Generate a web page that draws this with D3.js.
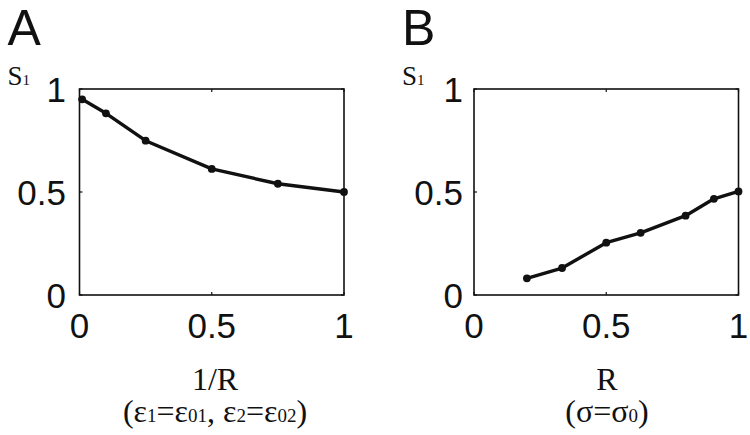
<!DOCTYPE html>
<html>
<head>
<meta charset="utf-8">
<script src="https://cdn.jsdelivr.net/npm/d3@7"></script>
<style>
  body { margin: 0; background: #fff; }
  svg { display: block; }
</style>
</head>
<body>
<div id="chart"></div>
<script>
// Panel A: S1 vs 1/R
const invR = [0.01, 0.10, 0.25, 0.50, 0.75, 1.00];
const s1A = [0.95, 0.882, 0.749, 0.612, 0.540, 0.500];
// Panel B: S1 vs R
const rVals = [0.20, 0.333, 0.50, 0.63, 0.80, 0.907, 1.00];
const s1B = [0.081, 0.131, 0.254, 0.302, 0.385, 0.467, 0.503];

const xTicks = [0, 0.5, 1];
const yTicks = [0, 0.5, 1];
const tickLabels = ['0', '0.5', '1'];

const W = 750, H = 435;
const svg = d3.select('#chart').append('svg').attr('width', W).attr('height', H);

const sans = 'Arial, "Liberation Sans", sans-serif';
const serif = '"Times New Roman", "Liberation Serif", serif';

const panels = [
  { letter: 'A', left: 79.5, right: 344, labelEnd: 66, xs: invR, ys: s1A },
  { letter: 'B', left: 474, right: 738.5, labelEnd: 463, xs: rVals, ys: s1B }
];
const plotTop = 89, plotBottom = 295;

panels.forEach(p => {
  const x = d3.scaleLinear().domain([0, 1]).range([p.left, p.right]);
  const y = d3.scaleLinear().domain([0, 1]).range([plotBottom, plotTop]);
  const g = svg.append('g');

  // box
  g.append('rect')
    .attr('x', x(0)).attr('y', y(1))
    .attr('width', x(1) - x(0)).attr('height', y(0) - y(1))
    .attr('fill', 'none').attr('stroke', '#111').attr('stroke-width', 1.6);

  // inward ticks
  xTicks.forEach(t => {
    g.append('line').attr('x1', x(t)).attr('x2', x(t)).attr('y1', y(0)).attr('y2', y(0) - 3)
      .attr('stroke', '#111').attr('stroke-width', 1.2);
    g.append('line').attr('x1', x(t)).attr('x2', x(t)).attr('y1', y(1)).attr('y2', y(1) + 3)
      .attr('stroke', '#111').attr('stroke-width', 1.2);
  });
  yTicks.forEach(t => {
    g.append('line').attr('x1', x(0)).attr('x2', x(0) + 3).attr('y1', y(t)).attr('y2', y(t))
      .attr('stroke', '#111').attr('stroke-width', 1.2);
    g.append('line').attr('x1', x(1)).attr('x2', x(1) - 3).attr('y1', y(t)).attr('y2', y(t))
      .attr('stroke', '#111').attr('stroke-width', 1.2);
  });

  // tick labels
  g.selectAll('.xt').data(xTicks).join('text')
    .attr('x', d => x(d)).attr('y', 338)
    .attr('text-anchor', 'middle')
    .style('font-family', sans).style('font-size', '35px').attr('fill', '#111')
    .text((d, i) => tickLabels[i]);
  g.selectAll('.yt').data(yTicks).join('text')
    .attr('x', p.labelEnd).attr('y', d => y(d)).attr('dy', '0.36em')
    .attr('text-anchor', 'end')
    .style('font-family', sans).style('font-size', '35px').attr('fill', '#111')
    .text((d, i) => tickLabels[i]);

  // data
  const pts = p.xs.map((v, i) => [v, p.ys[i]]);
  g.append('path').datum(pts)
    .attr('d', d3.line().x(d => x(d[0])).y(d => y(d[1])))
    .attr('fill', 'none').attr('stroke', '#111').attr('stroke-width', 3.4)
    .attr('stroke-linejoin', 'round');
  g.selectAll('circle').data(pts).join('circle')
    .attr('cx', d => x(d[0])).attr('cy', d => y(d[1])).attr('r', 3.9)
    .attr('fill', '#111');

  // panel letter
  g.append('text').attr('x', p.left - 72).attr('y', 45)
    .style('font-family', sans).style('font-size', '50px').attr('fill', '#111')
    .text(p.letter);

  // y label S1
  const s = g.append('text').attr('x', p.left - 72).attr('y', 85)
    .style('font-family', serif).style('font-size', '27px').attr('fill', '#111');
  s.append('tspan').text('S');
  s.append('tspan').style('font-size', '15px').text('1');
});

// x labels
const cxA = 215, cxB = 607;
svg.append('text').attr('x', cxA).attr('y', 390).attr('text-anchor', 'middle')
  .style('font-family', serif).style('font-size', '32px').attr('fill', '#111').text('1/R');
svg.append('text').attr('x', cxB).attr('y', 390).attr('text-anchor', 'middle')
  .style('font-family', serif).style('font-size', '32px').attr('fill', '#111').text('R');

function subLine(cx, parts) {
  const t = svg.append('text').attr('x', cx).attr('y', 422).attr('text-anchor', 'middle')
    .style('font-family', serif).style('font-size', '32px').attr('fill', '#111');
  parts.forEach(([str, sub]) => {
    if (sub) t.append('tspan').style('font-size', '19px').text(str);
    else t.append('tspan').text(str);
  });
}
subLine(cxA, [['(ε'], ['1', true], ['=ε'], ['01', true], [', ε'], ['2', true], ['=ε'], ['02', true], [')']]);
subLine(cxB, [['(σ=σ'], ['0', true], [')']]);
</script>
</body>
</html>
